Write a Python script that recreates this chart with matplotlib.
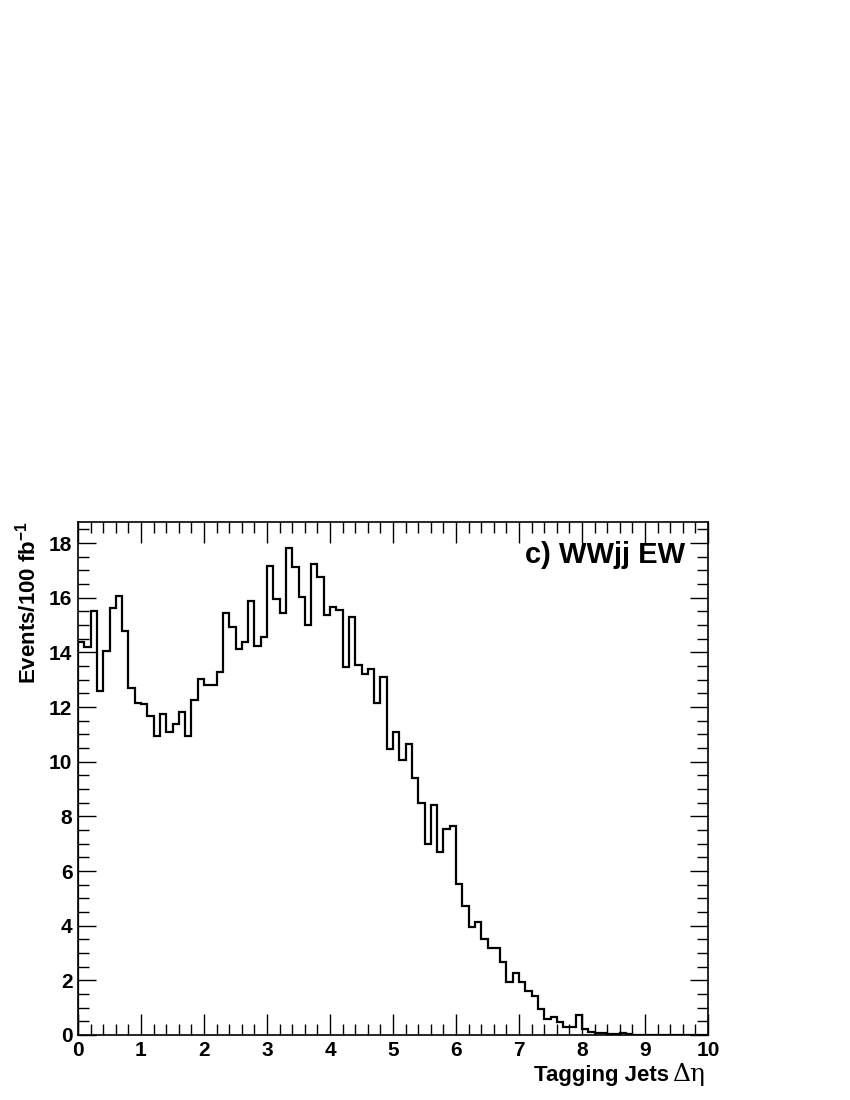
import numpy as np
import matplotlib
matplotlib.use('Agg')
import matplotlib.pyplot as plt
from matplotlib.ticker import MultipleLocator

# bin edges of the Delta-eta histogram (100 bins of 0.1)
bin_edges = np.linspace(0, 10, 101)

# events / 100 fb^-1 per bin
events = [
    14.38, 14.2, 15.52, 12.57, 14.06, 15.63, 16.07, 14.77, 12.68, 12.16,
    12.11, 11.66, 10.93, 11.74, 11.09, 11.39, 11.8, 10.93, 12.27, 13.04,
    12.8, 12.8, 13.28, 15.44, 14.91, 14.12, 14.38, 15.89, 14.24, 14.56,
    17.17, 15.96, 15.43, 17.83, 17.11, 16.04, 15.01, 17.23, 16.74, 15.37,
    15.66, 15.56, 13.46, 15.3, 13.52, 13.22, 13.4, 12.15, 13.1, 10.48,
    11.07, 10.05, 10.66, 9.39, 8.49, 7.0, 8.43, 6.7, 7.55, 7.66,
    5.51, 4.72, 3.94, 4.15, 3.52, 3.2, 3.17, 2.68, 1.95, 2.26,
    1.95, 1.61, 1.44, 0.94, 0.59, 0.66, 0.46, 0.29, 0.29, 0.72,
    0.22, 0.12, 0.07, 0.07, 0.02, 0.02, 0.06, 0.02, 0.01, 0.0,
    0.0, 0.0, 0.0, 0.0, 0.0, 0.0, 0.0, 0.0, 0.0, 0.0,
]

plt.rcParams['font.family'] = ['Liberation Sans', 'DejaVu Sans']
plt.rcParams['font.weight'] = 'bold'
plt.rcParams['mathtext.fontset'] = 'custom'
plt.rcParams['mathtext.bf'] = 'Liberation Sans:bold'

fig = plt.figure(figsize=(8.5, 11), dpi=100)
ax = fig.add_axes([78 / 850, 65 / 1100, 630 / 850, 513 / 1100])

ax.stairs(events, bin_edges, color='black', linewidth=1.6)

ax.set_xlim(0, 10)
ax.set_ylim(0, 18.77)

ax.xaxis.set_major_locator(MultipleLocator(1))
ax.xaxis.set_minor_locator(MultipleLocator(0.2))
ax.yaxis.set_major_locator(MultipleLocator(2))
ax.yaxis.set_minor_locator(MultipleLocator(0.5))
ax.tick_params(which='both', direction='in', top=True, right=True, width=1,
               labelsize=15, pad=4)
ax.tick_params(which='major', length=15)
ax.tick_params(which='minor', length=8)
ax.tick_params(axis='y', which='major', length=13)
for lbl in ax.get_xticklabels() + ax.get_yticklabels():
    lbl.set_fontweight('bold')
for sp in ax.spines.values():
    sp.set_linewidth(1.2)

ax.text(0.963, 0.935, 'c) WWjj EW', transform=ax.transAxes, ha='right',
        va='center', fontsize=21, fontweight='bold')

fig.text(28 / 850, 1 - 521 / 1100, r'Events/100 fb$^{\mathbf{-1}}$', rotation=90,
         ha='center', va='top', fontsize=16, fontweight='bold')

# x label: bold words plus the Greek symbols in a plain serif face
fig.text(669 / 850, 1 - 1081 / 1100, 'Tagging Jets', ha='right',
         va='baseline', fontsize=16, fontweight='bold')
fig.text(672 / 850, 1 - 1081 / 1100, '\u0394\u03b7', ha='left',
         va='baseline', fontsize=18, fontweight='normal',
         family=['DejaVu Serif'])

fig.savefig('out.png', dpi=100)
